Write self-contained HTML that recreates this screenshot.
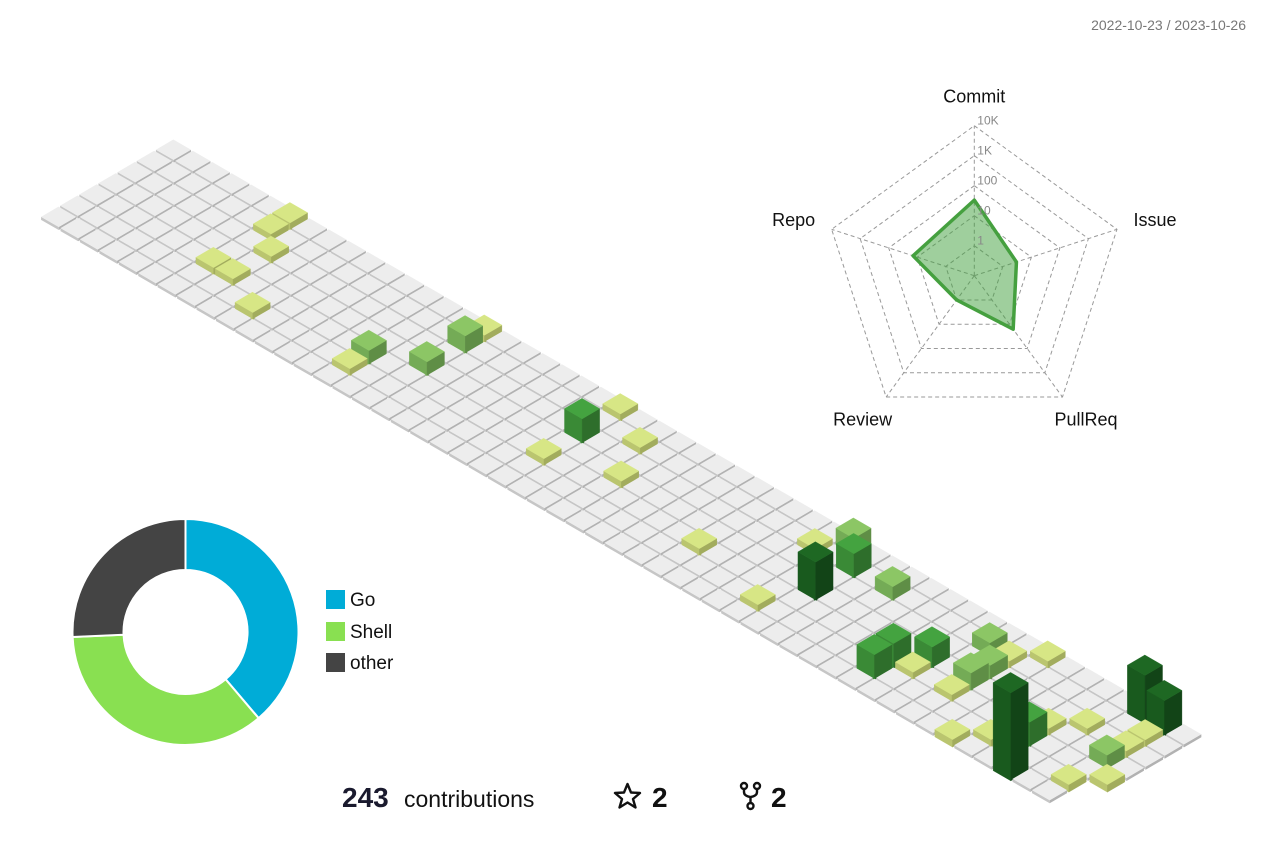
<!DOCTYPE html>
<html><head><meta charset="utf-8">
<style>
html,body{margin:0;padding:0;background:#fff;}
body{width:1274px;height:848px;overflow:hidden;font-family:"Liberation Sans",sans-serif;}
</style></head>
<body>
<svg id="chart" width="1274" height="848" viewBox="0 0 1274 848" xmlns="http://www.w3.org/2000/svg" font-family="Liberation Sans, sans-serif">
  <text x="1246" y="30" text-anchor="end" font-size="14" fill="#777">2022-10-23 / 2023-10-26</text>
  <g id="grid"></g>
  <g id="radar"></g>
  <g id="donut"></g>
  <g font-size="19" fill="#111">
    <g><rect x="326" y="590" width="19" height="19" fill="#00acd7"/><text x="350" y="606">Go</text></g>
    <g><rect x="326" y="622" width="19" height="19" fill="#89e051"/><text x="350" y="638">Shell</text></g>
    <g><rect x="326" y="653" width="19" height="19" fill="#444444"/><text x="350" y="669">other</text></g>
  </g>
  <g fill="#111">
    <text x="342" y="807" font-size="28" font-weight="bold" fill="#1a1a2e">243</text>
    <text x="404" y="807" font-size="23" fill="#111">contributions</text>
    <path d="M627.5,784 L631,792.5 L640,793 L633,799 L635.5,807.5 L627.5,802.5 L619.5,807.5 L622,799 L615,793 L624,792.5 Z" fill="none" stroke="#111" stroke-width="2.4" stroke-linejoin="round"/>
    <text x="652" y="807" font-size="28" font-weight="bold">2</text>
    <g fill="none" stroke="#111" stroke-width="2.4">
      <circle cx="744" cy="786" r="3"/><circle cx="757" cy="786" r="3"/><circle cx="750.5" cy="806" r="3"/>
      <path d="M744,789 v3 q0,4 6.5,5 q6.5,-1 6.5,-5 v-3 M750.5,797 v6"/>
    </g>
    <text x="771" y="807" font-size="28" font-weight="bold">2</text>
  </g>
</svg>
<script>
// ---- calendar data ----
const cellWeeks  = [6,6,7,6,7,9,14,16,23,25,23,26,31,35,34,42,44,44,45,48,49,46,47,52,51,51,51, 14,16,16,35,38,43,44,44,51, 23,36,41,41,42,48, 36,49,50,51];
const cellDays   = [0,1,2,4,4,5,5,0,0,1,4,3,4,5,1,4,4,1,0,3,2,6,5,4,5,2,1, 4,3,1,0,1,1,2,3,3, 2,1,5,4,3,4, 3,6,0,0];
const cellCounts = [1,1,1,1,1,1,1,1,1,1,1,1,1,1,1,1,1,1,1,1,1,1,1,1,1,1,1, 3,3,4,4,3,3,3,4,3, 6,6,6,6,5,6, 10,24,13,9];
const totalWeeks = 53;
const lastWeekDays = 5;

// ---- radar data ----
const radarAxes = ["Commit","Issue","PullReq","Review","Repo"];
const radarValues = [33,3,16,1,14];
const radarTicks = ["1","10","100","1K","10K"];

// ---- donut data ----
const langNames = ["Go","Shell","other"];
const langShares = [38.8,35.5,25.7];
const langColors = ["#00acd7","#89e051","#444444"];

const NS="http://www.w3.org/2000/svg";
function mk(tag,attrs,parent){const e=document.createElementNS(NS,tag);for(const k in attrs)e.setAttribute(k,attrs[k]);parent.appendChild(e);return e;}

// ---- isometric calendar ----
const O=[173.3,141.5], W=[19.43,11.24], D=[-19.14,11.19];
function pt(a,b,h){return [O[0]+a*W[0]+b*D[0], O[1]+a*W[1]+b*D[1]-h];}
function ps(arr){return arr.map(p=>p[0].toFixed(2)+","+p[1].toFixed(2)).join(" ");}
function heightOf(c){return c>0?4+c*3.5:3;}
function palette(c){
  if(c<=0) return ["#ededed","#c6c6c6","#b2b2b2"];
  if(c<=2) return ["#d7e685","#bac56f","#a2ac5d"];
  if(c<=4) return ["#8cc665","#74ab56","#5f8e46"];
  if(c<=8) return ["#44a340","#3a8a36","#2e6e2b"];
  return ["#1e6823","#195a1e","#124417"];
}
const grid=document.getElementById('grid');
const cells=[];
for(let w=0;w<totalWeeks;w++){
  const nd = (w===totalWeeks-1)?lastWeekDays:7;
  for(let d=0;d<nd;d++){
    let c=0;
    for(let i=0;i<cellWeeks.length;i++){ if(cellWeeks[i]===w&&cellDays[i]===d) c=cellCounts[i]; }
    cells.push({w:w,d:d,c:c});
  }
}
cells.sort((p,q)=>(p.w+p.d)-(q.w+q.d)||p.w-q.w);
const ins=0.045;
cells.forEach(cell=>{
  const h=heightOf(cell.c), col=palette(cell.c);
  const a0=cell.w+ins,a1=cell.w+1-ins,b0=cell.d+ins,b1=cell.d+1-ins;
  const g=mk('g',{},grid);
  
  
  const sw=cell.c>0?"0.4":"0";
  mk('polygon',{points:ps([pt(a0,b1,h),pt(a1,b1,h),pt(a1,b1,0),pt(a0,b1,0)]),fill:col[1],stroke:col[1],'stroke-width':sw},g);
  mk('polygon',{points:ps([pt(a1,b0,h),pt(a1,b1,h),pt(a1,b1,0),pt(a1,b0,0)]),fill:col[2],stroke:col[2],'stroke-width':sw},g);
  mk('polygon',{points:ps([pt(a0,b0,h),pt(a1,b0,h),pt(a1,b1,h),pt(a0,b1,h)]),fill:col[0],stroke:col[0],'stroke-width':sw},g);
});

// ---- radar ----
const radar=document.getElementById('radar');
const RC=[974.3,275.7], RR=150, nRing=radarTicks.length;
function rScale(v){return v<=0?0:Math.min(RR,(RR/nRing)*(1+Math.log10(v)));}
function ang(i){return (-90+i*360/radarAxes.length)*Math.PI/180;}
function rp(i,r){return [RC[0]+r*Math.cos(ang(i)), RC[1]+r*Math.sin(ang(i))];}
for(let k=1;k<=nRing;k++){
  const r=RR*k/nRing;
  const ring=mk('polygon',{points:ps(radarAxes.map((_,i)=>rp(i,r))),fill:"none",stroke:"#999","stroke-width":"1","stroke-dasharray":"4,3"},radar);
  
  
}
radarAxes.forEach((_,i)=>{
  const e=rp(i,RR);
  const sp=mk('line',{x1:RC[0],y1:RC[1],x2:e[0],y2:e[1],stroke:"#999","stroke-width":"1","stroke-dasharray":"4,3"},radar);
  
  
});
const area=mk('polygon',{points:ps(radarValues.map((v,i)=>rp(i,rScale(v)))),fill:"rgba(64,160,60,0.5)",stroke:"#45a03f","stroke-width":"3.5","stroke-linejoin":"round"},radar);


radarTicks.forEach((t,k)=>{
  const y=RC[1]-RR*(k+1)/nRing-5;
  const tx=mk('text',{x:RC[0]+3,y:y,'font-size':"12",fill:"#888","dominant-baseline":"central"},radar);
  tx.textContent=t;
  
  
});
radarAxes.forEach((a,i)=>{
  const p=rp(i,i===0?180:190);
  const dy=(i===2||i===3)?-10:(i===0?1:3);
  const tx=mk('text',{x:p[0],y:p[1]+dy,'font-size':"18",fill:"#111","text-anchor":"middle","dominant-baseline":"central"},radar);
  tx.textContent=a;
  
  
});

// ---- donut ----
const donut=document.getElementById('donut');
const DC=[185.5,632], Ro=113, Ri=62;
const tot=langShares.reduce((s,v)=>s+v,0);
let acc=0;
langShares.forEach((v,i)=>{
  const s=acc/tot*2*Math.PI, e=(acc+v)/tot*2*Math.PI; acc+=v;
  const P=(r,t)=>[DC[0]+r*Math.sin(t), DC[1]-r*Math.cos(t)];
  const large=(e-s)>Math.PI?1:0;
  const p1=P(Ro,s),p2=P(Ro,e),p3=P(Ri,e),p4=P(Ri,s);
  const d=`M${p1[0]},${p1[1]} A${Ro},${Ro} 0 ${large} 1 ${p2[0]},${p2[1]} L${p3[0]},${p3[1]} A${Ri},${Ri} 0 ${large} 0 ${p4[0]},${p4[1]} Z`;
  const sl=mk('path',{d:d,fill:langColors[i],stroke:"#fff","stroke-width":"2"},donut);
  
  
});
</script>
</body></html>
